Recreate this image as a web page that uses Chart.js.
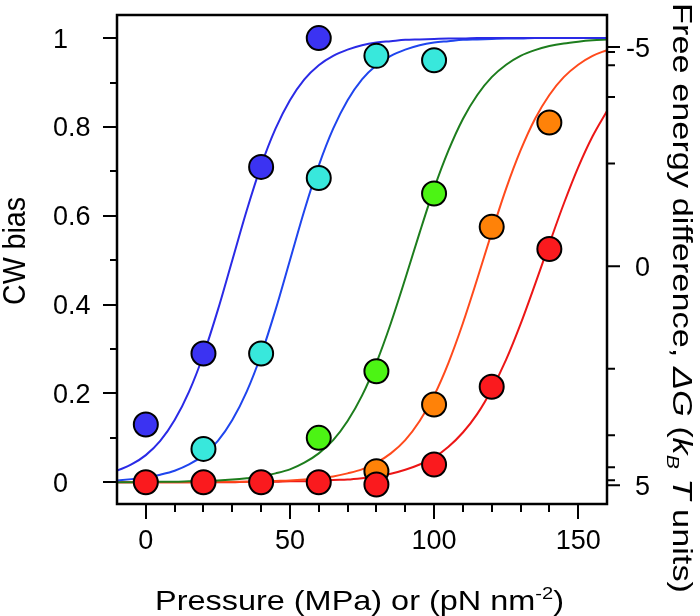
<!DOCTYPE html>
<html>
<head>
<meta charset="utf-8">
<script src="https://cdn.jsdelivr.net/npm/chart.js@4.4.0/dist/chart.umd.min.js"></script>
<style>
  html, body { margin: 0; padding: 0; background: #ffffff; }
  #wrap { width: 700px; height: 616px; position: relative; }
</style>
</head>
<body>
<div id="wrap"><canvas id="cwChart"></canvas></div>
<script>
// measured points (pressure, CW bias)
const blueX = [0, 20, 40, 60];
const blueY = [0.13, 0.29, 0.71, 1.0];
const cyanX = [20, 40, 60, 80, 100];
const cyanY = [0.075, 0.29, 0.685, 0.96, 0.95];
const greenX = [60, 80, 100];
const greenY = [0.10, 0.25, 0.65];
const orangeX = [80, 100, 120, 140];
const orangeY = [0.025, 0.175, 0.575, 0.81];
const redX = [0, 20, 40, 60, 80, 100, 120, 140];
const redY = [0, 0, 0, 0, -0.005, 0.04, 0.215, 0.525];

// fitted curves, every 5 MPa
const curveX = [-10, -5, 0, 5, 10, 15, 20, 25, 30, 35, 40, 45, 50, 55, 60, 65, 70, 75, 80, 85,
  90, 95, 100, 105, 110, 115, 120, 125, 130, 135, 140, 145, 150, 155, 160];
const blueFit = [0.026, 0.040, 0.061, 0.093, 0.140, 0.204, 0.287, 0.388, 0.500, 0.612, 0.713, 0.796,
  0.860, 0.907, 0.939, 0.960, 0.974, 0.984, 0.990, 0.993, 0.996, 0.997, 0.998, 0.999, 0.999,
  1, 1, 1, 1, 1, 1, 1, 1, 1, 1];
const cyanFit = [0.004, 0.007, 0.010, 0.017, 0.026, 0.040, 0.061, 0.093, 0.140, 0.204, 0.287, 0.388,
  0.500, 0.612, 0.713, 0.796, 0.860, 0.907, 0.939, 0.960, 0.974, 0.984, 0.990, 0.993, 0.996,
  0.997, 0.998, 0.999, 0.999, 1, 1, 1, 1, 1, 1];
const greenFit = [0, 0, 0.001, 0.001, 0.001, 0.002, 0.003, 0.004, 0.006, 0.009, 0.013, 0.020,
  0.029, 0.044, 0.065, 0.095, 0.138, 0.195, 0.269, 0.358, 0.458, 0.562, 0.661, 0.747, 0.818,
  0.872, 0.912, 0.940, 0.960, 0.973, 0.982, 0.988, 0.992, 0.995, 0.997];
const orangeFit = [0, 0, 0, 0, 0, 0, 0, 0.001, 0.001, 0.001, 0.002, 0.003, 0.004, 0.006, 0.009,
  0.013, 0.020, 0.029, 0.044, 0.065, 0.095, 0.138, 0.195, 0.269, 0.358, 0.458, 0.562, 0.661,
  0.747, 0.818, 0.872, 0.912, 0.940, 0.960, 0.973];
const redFit = [0, 0, 0, 0, 0, 0, 0, 0, 0, 0.001, 0.001, 0.001, 0.002, 0.002, 0.003, 0.005, 0.006,
  0.009, 0.013, 0.019, 0.028, 0.040, 0.056, 0.080, 0.112, 0.154, 0.209, 0.276, 0.356, 0.445,
  0.537, 0.627, 0.709, 0.779, 0.836];

// axis ticks
const xTicks = [0, 50, 100, 150];
const xMinorTicks = [10, 20, 30, 40, 60, 70, 80, 90, 110, 120, 130, 140];
const yTicks = [0, 0.2, 0.4, 0.6, 0.8, 1];
const yTickLabels = ['0', '0.2', '0.4', '0.6', '0.8', '1'];
const yMinorTicks = [0.1, 0.3, 0.5, 0.7, 0.9];
const dgTicks = [-5, -4, -3, -2, -1, 0, 1, 2, 3, 4, 5];
const dgLabels = [-5, 0, 5];

const FONT = '"Liberation Sans", Arial, Helvetica, sans-serif';

function pts(xs, ys) {
  return xs.map((x, i) => ({x: x, y: ys[i]}));
}

function fitSet(ys, color) {
  return {
    data: pts(curveX, ys),
    showLine: true,
    borderColor: color,
    borderWidth: 2,
    pointRadius: 0,
    cubicInterpolationMode: 'monotone',
    order: 10
  };
}

function dotSet(xs, ys, color, order) {
  return {
    data: pts(xs, ys),
    backgroundColor: color,
    borderColor: '#000000',
    borderWidth: 2,
    pointRadius: 12,
    pointHoverRadius: 12,
    order: order
  };
}

// draw a run of text pieces (regular / italic / sub / sup) starting at x along the baseline
function drawPieces(ctx, pieces, size, x, y) {
  pieces.forEach(p => {
    const s = p.small ? size * 0.62 : size;
    ctx.font = (p.italic ? 'italic ' : '') + s + 'px ' + FONT;
    const dy = p.sub ? size * 0.22 : (p.sup ? -size * 0.38 : 0);
    ctx.fillText(p.t, x, y + dy);
    x += ctx.measureText(p.t).width;
  });
  return x;
}

function piecesWidth(ctx, pieces, size) {
  let w = 0;
  pieces.forEach(p => {
    const s = p.small ? size * 0.62 : size;
    ctx.font = (p.italic ? 'italic ' : '') + s + 'px ' + FONT;
    w += ctx.measureText(p.t).width;
  });
  return w;
}

// the free-energy axis sits a few pixels lower than the bias scale in the original
const DG_SHIFT = 6;

const framePlugin = {
  id: 'frame',
  afterDraw(chart) {
    const ctx = chart.ctx;
    const a = chart.chartArea;
    const xs = chart.scales.x;
    const ys = chart.scales.y;
    const dgPixel = g => ys.getPixelForValue(1 / (1 + Math.exp(g))) + DG_SHIFT;
    ctx.save();
    ctx.strokeStyle = '#000000';
    ctx.fillStyle = '#000000';

    // box
    ctx.lineWidth = 2.5;
    ctx.strokeRect(a.left, a.top, a.right - a.left, a.bottom - a.top);

    ctx.lineWidth = 2;
    ctx.beginPath();
    xTicks.forEach(v => {
      const px = Math.round(xs.getPixelForValue(v));
      ctx.moveTo(px, a.bottom); ctx.lineTo(px, a.bottom + 15);
    });
    xMinorTicks.forEach(v => {
      const px = Math.round(xs.getPixelForValue(v));
      ctx.moveTo(px, a.bottom); ctx.lineTo(px, a.bottom + 8);
    });
    yTicks.forEach(v => {
      const py = Math.round(ys.getPixelForValue(v));
      ctx.moveTo(a.left, py); ctx.lineTo(a.left - 14, py);
    });
    yMinorTicks.forEach(v => {
      const py = Math.round(ys.getPixelForValue(v));
      ctx.moveTo(a.left, py); ctx.lineTo(a.left - 7, py);
    });
    // right axis: free energy, placed on the bias scale
    dgTicks.forEach(g => {
      const py = dgPixel(g);
      const len = dgLabels.includes(g) ? 13 : 8;
      ctx.moveTo(a.right, py); ctx.lineTo(a.right + len, py);
    });
    ctx.stroke();

    // tick labels
    ctx.font = '27px ' + FONT;
    ctx.textBaseline = 'alphabetic';
    ctx.textAlign = 'center';
    xTicks.forEach(v => {
      ctx.fillText(String(v), xs.getPixelForValue(v), 549);
    });
    ctx.textAlign = 'left';
    yTicks.forEach((v, i) => {
      ctx.fillText(yTickLabels[i], 53, ys.getPixelForValue(v) + 9.5);
    });
    ctx.textAlign = 'right';
    dgLabels.forEach(g => {
      ctx.fillText(String(g), 650, dgPixel(g) + 9.5);
    });

    // axis titles
    ctx.textAlign = 'left';
    const size = 28;

    const bottomTitle = [
      {t: 'Pressure (MPa) or (pN nm'},
      {t: '-2', small: true, sup: true},
      {t: ')'}
    ];
    let w = piecesWidth(ctx, bottomTitle, size);
    let k = 409 / w;
    ctx.save();
    ctx.translate(155, 610);
    ctx.scale(k, 1);
    drawPieces(ctx, bottomTitle, size, 0, 0);
    ctx.restore();

    const leftTitle = [{t: 'CW bias'}];
    w = piecesWidth(ctx, leftTitle, 31);
    k = 108 / w;
    ctx.save();
    ctx.translate(25, 251);
    ctx.rotate(-Math.PI / 2);
    ctx.scale(k, 1);
    drawPieces(ctx, leftTitle, 31, -w / 2, 0);
    ctx.restore();

    const rightTitle = [
      {t: 'Free energy difference, '},
      {t: 'ΔG', italic: true},
      {t: ' ('},
      {t: 'k', italic: true},
      {t: 'B', italic: true, small: true, sub: true},
      {t: ' T', italic: true},
      {t: ' units)'}
    ];
    w = piecesWidth(ctx, rightTitle, size);
    k = 590 / w;
    ctx.save();
    ctx.translate(673, 3);
    ctx.rotate(Math.PI / 2);
    ctx.scale(k, 1);
    drawPieces(ctx, rightTitle, size, 0, 0);
    ctx.restore();

    ctx.restore();
  }
};

const ctx = document.getElementById('cwChart').getContext('2d');
const cwChart = new Chart(ctx, {
  type: 'scatter',
  data: {
    datasets: [
      fitSet(blueFit, '#2a2ae6'),
      fitSet(cyanFit, '#1f45ee'),
      fitSet(greenFit, '#1d7d1d'),
      fitSet(orangeFit, '#ff4a1c'),
      fitSet(redFit, '#ec1616'),
      dotSet(blueX, blueY, '#3b33f2', 5),
      dotSet(cyanX, cyanY, '#38e8dc', 4),
      dotSet(greenX, greenY, '#4cf414', 3),
      dotSet(orangeX, orangeY, '#ff8208', 2),
      dotSet(redX, redY, '#fa1a1e', 1)
    ]
  },
  options: {
    responsive: true,
    maintainAspectRatio: false,
    animation: false,
    layout: {
      padding: {left: 117, right: 93, top: 15, bottom: 112}
    },
    scales: {
      x: {type: 'linear', min: -10, max: 160, display: false},
      y: {type: 'linear', min: -0.049, max: 1.052, display: false}
    },
    plugins: {
      legend: {display: false},
      tooltip: {enabled: false}
    }
  },
  plugins: [framePlugin]
});
</script>
</body>
</html>
